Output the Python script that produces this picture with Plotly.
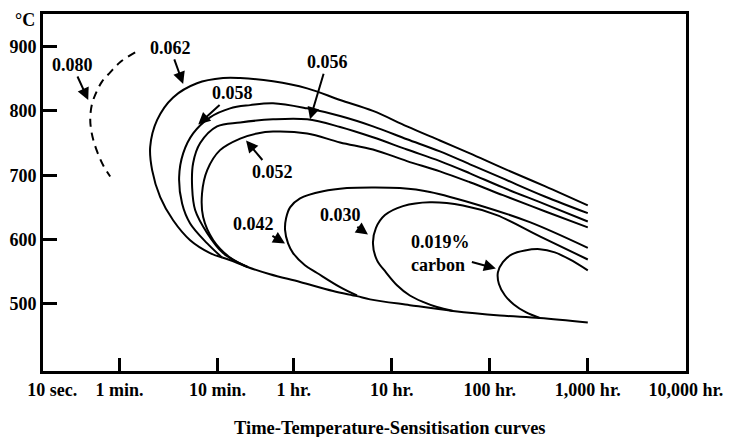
import math
import plotly.graph_objects as go

# ---- axis ticks ----
x_tick_vals = [10 / 3600, 1 / 60, 1 / 6, 1, 10, 100, 1000, 10000]   # hours
x_tick_text = ["\u00a0" * 4 + "10 sec.", "1 min.", "10 min.", "1 hr.", "10 hr.",
               "100 hr.", "1,000 hr.", "10,000 hr."]
y_tick_vals = [500, 600, 700, 800, 900]

# ---- curves: time (hours) and temperature (degC) ----
c080_t = [0.0241, 0.0170, 0.0134, 0.0111, 0.00988, 0.00879, 0.00839, 0.00858, 0.00921, 0.0104, 0.0117, 0.0134]
c080_T = [891, 876, 860, 846, 832, 812, 790, 770, 750, 728, 712, 698]

c062_t = [1000, 364, 136, 62.7, 31.0, 14.3, 6.43, 2.97, 1.37, 0.615, 0.284, 0.190, 0.103, 0.0588,
          0.0404, 0.0343, 0.0359, 0.0434, 0.0588, 0.0877, 0.140, 0.186]
c062_T = [653, 683, 711, 734, 754, 776, 800, 817, 835, 846, 851, 851, 843, 821,
          786, 744, 708, 666, 630, 599, 579, 572]

c058_t = [1000, 364, 136, 62.7, 31.0, 14.3, 6.43, 2.97, 1.37, 0.615, 0.359, 0.224, 0.140, 0.0941,
          0.0744, 0.0677, 0.0726, 0.0877, 0.131, 0.186]
c058_T = [641, 667, 695, 717, 737, 756, 776, 792, 804, 812, 809, 804, 790, 765,
          734, 697, 656, 625, 594, 572]

c056_t = [1000, 364, 136, 62.7, 31.0, 14.3, 6.43, 2.97, 1.37, 0.615, 0.284, 0.165, 0.111, 0.0941,
          0.0919, 0.0986, 0.131, 0.190, 0.258, 0.342]
c056_T = [628, 655, 681, 703, 722, 740, 759, 775, 787, 787, 782, 776, 750, 719,
          681, 646, 610, 579, 566, 557]

c052_t = [1000, 364, 136, 62.7, 31.0, 14.3, 6.43, 2.97, 1.37, 0.615, 0.423, 0.284, 0.177, 0.131,
          0.116, 0.119, 0.151, 0.224, 0.342]
c052_T = [619, 644, 669, 689, 706, 722, 740, 751, 765, 768, 765, 757, 739, 708,
          672, 635, 599, 572, 557]

c042_t = [1000, 256, 79.3, 24.5, 12.1, 6.43, 3.49, 1.99, 1.16, 0.917, 0.835, 0.815, 0.875, 0.984,
          1.30, 1.73, 2.97, 4.42]
c042_T = [587, 627, 653, 674, 680, 681, 680, 675, 664, 650, 633, 615, 594, 579,
          560, 548, 526, 513]

c030_t = [1000, 324, 118, 53.2, 24.5, 13.0, 8.52, 6.90, 6.43, 7.06, 8.73, 11.3, 15.3, 20.8, 28.9, 42.1]
c030_T = [569, 605, 638, 653, 658, 652, 638, 618, 594, 568, 549, 529, 513, 503, 495, 489]

c019_t = [1000, 655, 461, 324, 228, 168, 136, 121, 124, 143, 176, 233, 324]
c019_T = [552, 569, 580, 585, 583, 577, 565, 549, 531, 513, 499, 487, 478]

# common lower boundary shared by the curves
low_t = [0.186, 0.252, 0.342, 0.573, 1.16, 2.52, 4.42, 6.0, 15.3, 42.1, 127, 324, 1000]
low_T = [572, 565, 557, 546, 534, 520, 512, 507, 498, 489, 482, 478, 471]

# ---- labels: text, arrow tip time (h), arrow tip temperature ----
label_text = ["0.080", "0.062", "0.058", "0.056", "0.052", "0.042", "0.030", "0.019%<br>carbon"]
label_tip_t = [0.0080, 0.0744, 0.106, 1.466, 0.326, 0.815, 5.72, 115.4]
label_tip_T = [817, 842, 779, 787, 754, 594, 608, 555]

fig = go.Figure()

fig.add_trace(go.Scatter(x=c080_t, y=c080_T, mode="lines",
                         line=dict(color="black", width=2, dash="8px,6px", shape="spline")))
for t, T in [(c062_t, c062_T), (c058_t, c058_T), (c056_t, c056_T), (c052_t, c052_T),
             (c042_t, c042_T), (c030_t, c030_T), (c019_t, c019_T), (low_t, low_T)]:
    fig.add_trace(go.Scatter(x=t, y=T, mode="lines",
                             line=dict(color="black", width=2, shape="spline", smoothing=1)))

offsets = [(-16, -35), (-13, -36), (34, -31), (17, -57), (26, 31), (-32, -19), (-27, -19), (-55, -15)]
for txt, tx, ty, (ax, ay) in zip(label_text, label_tip_t, label_tip_T, offsets):
    fig.add_annotation(x=math.log10(tx), y=ty, text=txt, showarrow=True, ax=ax, ay=ay,
                       arrowhead=2, arrowsize=1.2, arrowwidth=2, arrowcolor="black",
                       align="left", font=dict(size=18))

fig.add_annotation(xref="paper", yref="paper", x=-0.028, y=0.982, text="°C",
                   xanchor="center", yanchor="middle", showarrow=False, font=dict(size=18))
fig.add_annotation(xref="paper", yref="paper", x=0.5397, y=-0.1597,
                   text="Time-Temperature-Sensitisation curves",
                   xanchor="center", yanchor="middle", showarrow=False, font=dict(size=18.5))

# the page body adds an 8px offset, so the margins are shifted to keep the frame in place
fig.update_layout(
    width=739, height=437,
    margin=dict(l=35, r=61, t=6, b=74, autoexpand=False),
    paper_bgcolor="white", plot_bgcolor="white",
    showlegend=False,
    font=dict(family="Liberation Serif", size=18, color="black", weight="bold"),
)
fig.update_xaxes(type="log", range=[math.log10(10 / 3600) - 0.002, 4.002],
                 tickvals=x_tick_vals, ticktext=x_tick_text, ticklabeloverflow="allow",
                 ticks="inside", ticklen=13, tickwidth=2.5, tickcolor="black", automargin=False,
                 showline=True, linewidth=3, linecolor="black", mirror=True,
                 showgrid=False, zeroline=False, tickfont=dict(size=18))
fig.update_yaxes(range=[395.6, 950.7], tickvals=y_tick_vals, automargin=False,
                 ticks="inside", ticklen=14, tickwidth=2.5, tickcolor="black",
                 showline=True, linewidth=3, linecolor="black", mirror=True,
                 showgrid=False, zeroline=False, tickfont=dict(size=18))

fig.write_html("out.html")
